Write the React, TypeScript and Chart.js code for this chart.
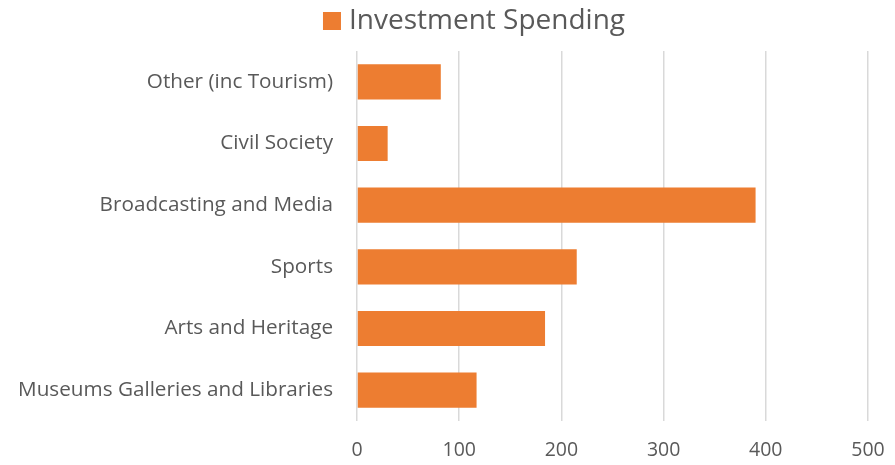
import React, { useEffect, useRef } from "react";
import { Chart, registerables } from "chart.js";

Chart.register(...registerables);

const categories = [
  "Other (inc Tourism)",
  "Civil Society",
  "Broadcasting and Media",
  "Sports",
  "Arts and Heritage",
  "Museums Galleries and Libraries",
];
const seriesName = "Investment Spending";
const investmentSpending = [82, 30, 390, 215, 184, 117];
const axisMin = 0;
const axisMax = 500;
const axisStep = 100;

const FONT = "'Open Sans', Lato, sans-serif";
const TEXT = "#595959";
const BAR = "#ED7D31";

const legendPlugin = {
  id: "customLegend",
  afterDraw(chart: any) {
    const ctx = chart.ctx;
    const ds = chart.data.datasets[0];
    ctx.save();
    ctx.font = `28px ${FONT}`;
    const label = ds.label as string;
    const tw = ctx.measureText(label).width;
    const box = 18;
    const gap = 8;
    const total = box + gap + tw;
    const cx = 474;
    const x0 = cx - total / 2;
    const cy = 20;
    ctx.fillStyle = ds.backgroundColor;
    ctx.fillRect(x0, cy - box / 2 + 1, box, box);
    ctx.fillStyle = TEXT;
    ctx.textBaseline = "middle";
    ctx.textAlign = "left";
    ctx.fillText(label, x0 + box + gap, cy + 1);
    ctx.restore();
  },
};

export default function App() {
  const ref = useRef<HTMLCanvasElement | null>(null);
  useEffect(() => {
    if (!ref.current) return;
    const chart = new Chart(ref.current, {
      type: "bar",
      data: {
        labels: categories,
        datasets: [
          {
            label: seriesName,
            data: investmentSpending,
            backgroundColor: BAR,
            borderWidth: 0,
            barPercentage: 0.57,
            categoryPercentage: 1,
          },
        ],
      },
      plugins: [legendPlugin],
      options: {
        indexAxis: "y",
        animation: false,
        responsive: false,
        maintainAspectRatio: false,
        layout: { padding: { top: 51, right: 27, bottom: 0, left: 0 } },
        plugins: {
          legend: { display: false },
          tooltip: { enabled: false },
        },
        scales: {
          x: {
            min: axisMin,
            max: axisMax,
            border: { display: false },
            grid: { color: "#d9d9d9", lineWidth: 1.5, drawTicks: false },
            afterFit: (scale: any) => {
              scale.height = 44;
              scale.paddingRight = 0;
              scale.paddingLeft = 0;
            },
            ticks: {
              stepSize: axisStep,
              padding: 18,
              color: TEXT,
              font: { family: FONT, size: 19.5 },
            },
          },
          y: {
            border: { display: false },
            grid: { display: false, drawTicks: false },
            afterFit: (scale: any) => {
              scale.width = 357;
              scale.paddingTop = 0;
              scale.paddingBottom = 0;
            },
            ticks: {
              padding: 24,
              color: TEXT,
              font: { family: FONT, size: 20.7 },
            },
          },
        },
      },
    });
    return () => chart.destroy();
  }, []);
  return (
    <div style={{ position: "fixed", left: 0, top: 0, width: 895, height: 465, background: "#fff" }}>
      <canvas ref={ref} width={895} height={465} style={{ width: 895, height: 465 }} />
    </div>
  );
}
